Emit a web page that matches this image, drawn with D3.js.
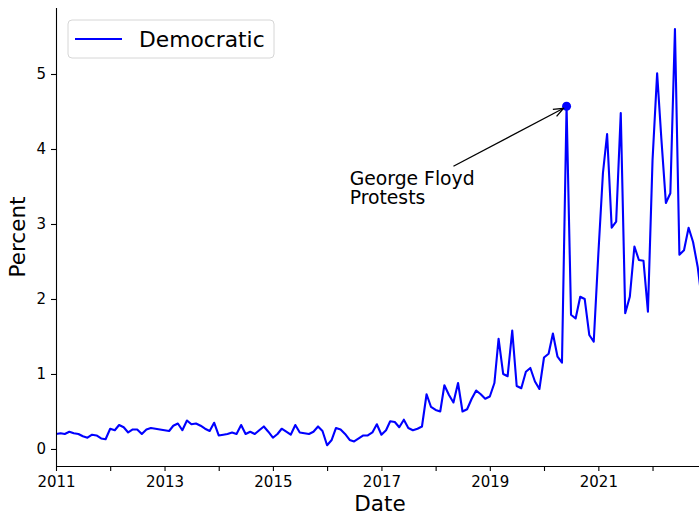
<!DOCTYPE html>
<html>
<head>
<meta charset="utf-8">
<script src="https://cdn.jsdelivr.net/npm/d3@7"></script>
<style>
  body { margin: 0; background: #fff; }
  svg { display: block; font-family: "DejaVu Sans", sans-serif; }
</style>
</head>
<body>
<svg id="chart"></svg>
<script>
// monthly share of posts, Democratic accounts, starting Jan 2011
const startYear = 2011;
const seriesName = "Democratic";
const percent = [
  0.20, 0.21, 0.20, 0.23, 0.21, 0.20, 0.17, 0.15, 0.19, 0.18, 0.14, 0.13, // 2011
  0.27, 0.25, 0.32, 0.29, 0.22, 0.26, 0.26, 0.20, 0.26, 0.28, 0.27, 0.26, // 2012
  0.25, 0.24, 0.31, 0.34, 0.25, 0.38, 0.33, 0.34, 0.31, 0.27, 0.24, 0.35, // 2013
  0.18, 0.19, 0.20, 0.22, 0.20, 0.32, 0.20, 0.23, 0.20, 0.25, 0.30, 0.23, // 2014
  0.15, 0.20, 0.27, 0.23, 0.19, 0.32, 0.22, 0.21, 0.20, 0.23, 0.30, 0.24, // 2015
  0.05, 0.12, 0.28, 0.26, 0.20, 0.12, 0.10, 0.14, 0.18, 0.18, 0.22, 0.33, // 2016
  0.19, 0.25, 0.37, 0.36, 0.29, 0.39, 0.28, 0.25, 0.27, 0.30, 0.73, 0.56, // 2017
  0.52, 0.50, 0.85, 0.72, 0.62, 0.88, 0.50, 0.53, 0.67, 0.78, 0.73, 0.67, // 2018
  0.70, 0.88, 1.47, 1.00, 0.97, 1.58, 0.84, 0.81, 1.03, 1.08, 0.90, 0.80, // 2019
  1.22, 1.27, 1.54, 1.23, 1.15, 4.57, 1.79, 1.74, 2.03, 2.00, 1.52, 1.43, // 2020
  2.60, 3.68, 4.20, 2.95, 3.03, 4.48, 1.81, 2.03, 2.70, 2.52, 2.51, 1.83, // 2021
  3.85, 5.01, 4.15, 3.28, 3.41, 5.60, 2.59, 2.65, 2.95, 2.76, 2.43, 1.95  // 2022
];
const yTicks = [0, 1, 2, 3, 4, 5];
const xLabelYears = [2011, 2013, 2015, 2017, 2019, 2021];
const annotation = { label: ["George Floyd", "Protests"], year: 2020, month: 5, value: 4.57 };

const width = 699, height = 519;
const margin = { top: 8, right: 0, bottom: 53, left: 56 };

const data = percent.map((v, i) => ({ date: new Date(startYear, i, 1), value: v }));

const svg = d3.select("#chart").attr("width", width).attr("height", height);

const x = d3.scaleTime()
  .domain([new Date(2011, 0, 1), new Date(2022, 10, 10)])
  .range([margin.left, width - margin.right]);

const y = d3.scaleLinear()
  .domain([-0.227, 5.88])
  .range([height - margin.bottom, margin.top]);

svg.append("defs").append("clipPath").attr("id", "plot-clip")
  .append("rect")
  .attr("x", margin.left).attr("y", margin.top)
  .attr("width", width - margin.left - margin.right)
  .attr("height", height - margin.top - margin.bottom);

// line
const line = d3.line().x(d => x(d.date)).y(d => y(d.value));
svg.append("path")
  .datum(data)
  .attr("clip-path", "url(#plot-clip)")
  .attr("fill", "none")
  .attr("stroke", "#0000ff")
  .attr("stroke-width", 2.1)
  .attr("stroke-linejoin", "round")
  .attr("d", line);

// axes
const xAxis = d3.axisBottom(x)
  .ticks(d3.timeYear.every(1))
  .tickSize(5)
  .tickPadding(5)
  .tickFormat(d => xLabelYears.includes(d.getFullYear()) ? d3.timeFormat("%Y")(d) : "");

const gx = svg.append("g")
  .attr("transform", `translate(0,${height - margin.bottom})`)
  .call(xAxis);

const yAxis = d3.axisLeft(y).tickValues(yTicks).tickSize(5).tickPadding(5).tickFormat(d3.format("d"));
const gy = svg.append("g")
  .attr("transform", `translate(${margin.left},0)`)
  .call(yAxis);

[gx, gy].forEach(g => {
  g.select(".domain").attr("stroke", "#000").attr("stroke-width", 1.1);
  g.selectAll(".tick line").attr("stroke", "#000").attr("stroke-width", 1.1);
  g.selectAll(".tick text").attr("fill", "#000").style("font-size", "15px").style("font-family", "DejaVu Sans");
});
gx.select(".domain").attr("d", `M${margin.left},0.5H${width}`);
gy.select(".domain").attr("d", `M0.5,${height - margin.bottom}V${margin.top}`);

// axis labels
svg.append("text")
  .attr("x", 380)
  .attr("y", 511)
  .attr("text-anchor", "middle")
  .style("font-size", "21.5px")
  .text("Date");

svg.append("text")
  .attr("transform", `translate(25,${(margin.top + height - margin.bottom) / 2}) rotate(-90)`)
  .attr("text-anchor", "middle")
  .style("font-size", "21.5px")
  .text("Percent");

// annotation
const px = x(new Date(annotation.year, annotation.month, 1));
const py = y(annotation.value);
svg.append("circle").attr("cx", px).attr("cy", py).attr("r", 4.5).attr("fill", "#0000ff");

const tx = x(new Date(2016, 5, 1));
const ty = y(3.52);
const ann = svg.append("text")
  .attr("x", tx).attr("y", ty)
  .style("font-size", "18.8px")
  .attr("fill", "#000");
annotation.label.forEach((s, i) => {
  ann.append("tspan").attr("x", tx).attr("dy", i === 0 ? 0 : "1.02em").text(s);
});

svg.select("defs").append("marker")
  .attr("id", "arrow")
  .attr("viewBox", "0 0 12 10")
  .attr("refX", 11).attr("refY", 5)
  .attr("markerWidth", 12).attr("markerHeight", 10)
  .attr("markerUnits", "userSpaceOnUse")
  .attr("orient", "auto")
  .append("path")
  .attr("d", "M1,1 L11,5 L1,9")
  .attr("fill", "none")
  .attr("stroke", "#000")
  .attr("stroke-width", 1.3);

const ax0 = x(new Date(2018, 4, 1)), ay0 = y(3.77);
svg.append("line")
  .attr("x1", ax0).attr("y1", ay0)
  .attr("x2", px - 3).attr("y2", py + 2)
  .attr("stroke", "#000")
  .attr("stroke-width", 1.3)
  .attr("marker-end", "url(#arrow)");

// legend
const lg = svg.append("g").attr("transform", "translate(68,20)");
lg.append("rect")
  .attr("width", 206).attr("height", 38).attr("rx", 4)
  .attr("fill", "#fff").attr("fill-opacity", 0.8)
  .attr("stroke", "#d6d6d6");
lg.append("line")
  .attr("x1", 7).attr("x2", 54).attr("y1", 19).attr("y2", 19)
  .attr("stroke", "#0000ff").attr("stroke-width", 2);
lg.append("text")
  .attr("x", 71).attr("y", 27)
  .style("font-size", "21.8px")
  .text(seriesName);
</script>
</body>
</html>
